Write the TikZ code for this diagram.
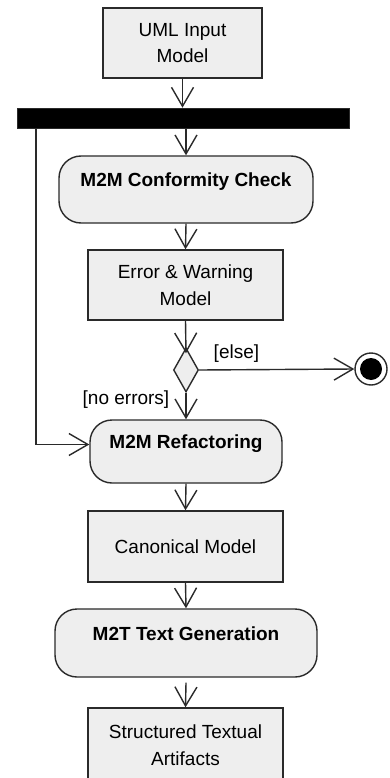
\documentclass[tikz,border=0pt]{standalone}
\usepackage{fontspec}
\setmainfont{Liberation Sans}
\usetikzlibrary{
	shapes.geometric,   %菱形判断节点
	positioning,       %定位
	arrows.meta,        %开口箭头
	calc               %计算
}
\definecolor{boxgray}{HTML}{EEEEEE}
\definecolor{linegray}{HTML}{2A2A2A}
\tikzset{
	every picture/.style={
		line width=1.4pt,
		draw=linegray
	},
	every node/.style={
		font=\fontsize{19}{26.5}\selectfont,
		inner sep=0pt
	},
	artifact/.style={rectangle,draw=linegray,fill=boxgray,align=center},
	activity/.style={rectangle,draw=linegray,fill=boxgray,rounded corners=22pt,
		font=\fontsize{19}{26.5}\selectfont\bfseries,
		text height=14pt,text depth=20pt},
	flow/.style={draw=linegray,-{Straight Barb[length=19pt,width=22pt]}},
	guard/.style={inner sep=2pt}
}

\begin{document}
\begin{tikzpicture}[x=1pt,y=-1pt]
\def\cx{186}%主轴横坐标
\def\boxw{195pt}%模型框宽度

\useasboundingbox (0,0) rectangle (389,778);

%输入模型与分叉条
\node[artifact,minimum width=159pt,minimum height=70pt] (uml) at (182.5,43) {UML Input\\Model};
\node[rectangle,fill=black,draw=linegray,line width=0.6pt,minimum width=332pt,minimum height=20pt] (bar) at (183,118) {};

%一致性检查
\node[activity,minimum width=254pt,minimum height=67pt] (conf) at (\cx,189.5) {M2M Conformity Check};
\node[artifact,minimum width=\boxw,minimum height=70pt] (err) at (185.5,285) {Error \& Warning\\Model};

%判断与终止
\node[diamond,draw=linegray,fill=boxgray,minimum width=25pt,minimum height=44pt] (dec) at (\cx,370) {};
\node[circle,draw=linegray,fill=white,minimum size=32pt] (final) at (371,369) {};
\fill[black] (final) circle (11pt);

%重构与生成
\node[activity,minimum width=192pt,minimum height=63pt] (refac) at (\cx,451.5) {M2M Refactoring};
\node[artifact,minimum width=\boxw,minimum height=71pt] (canon) at (185.5,546.5) {Canonical Model};
\node[activity,minimum width=262pt,minimum height=68pt] (m2t) at (\cx,643) {M2T Text Generation};
\node[artifact,minimum width=\boxw,minimum height=74pt] (arti) at (185.5,745) {Structured Textual\\Artifacts};

%控制流
\draw[flow] (uml.south) -- (uml.south |- bar.north);
\draw[flow] (bar.south -| conf.north) -- (conf.north);
\draw[flow] (conf.south) -- (err.north);
\draw[flow] (err.south) -- ([yshift=-6pt]dec.north);
\draw[flow] (dec.east) -- (final.west) node[guard,pos=0.24,above=5pt] {[else]};
\draw[flow] (dec.south) -- (refac.north) node[guard,pos=0.25,left=14pt] {[no errors]};
\coordinate (branch) at (36,128);
\draw[flow] (branch) |- ([yshift=7pt]refac.west);
\draw[flow] (refac.south) -- (canon.north);
\draw[flow] (canon.south) -- (m2t.north);
\draw[flow] ([yshift=-5pt]m2t.south) -- (arti.north);

\end{tikzpicture}
\end{document}
